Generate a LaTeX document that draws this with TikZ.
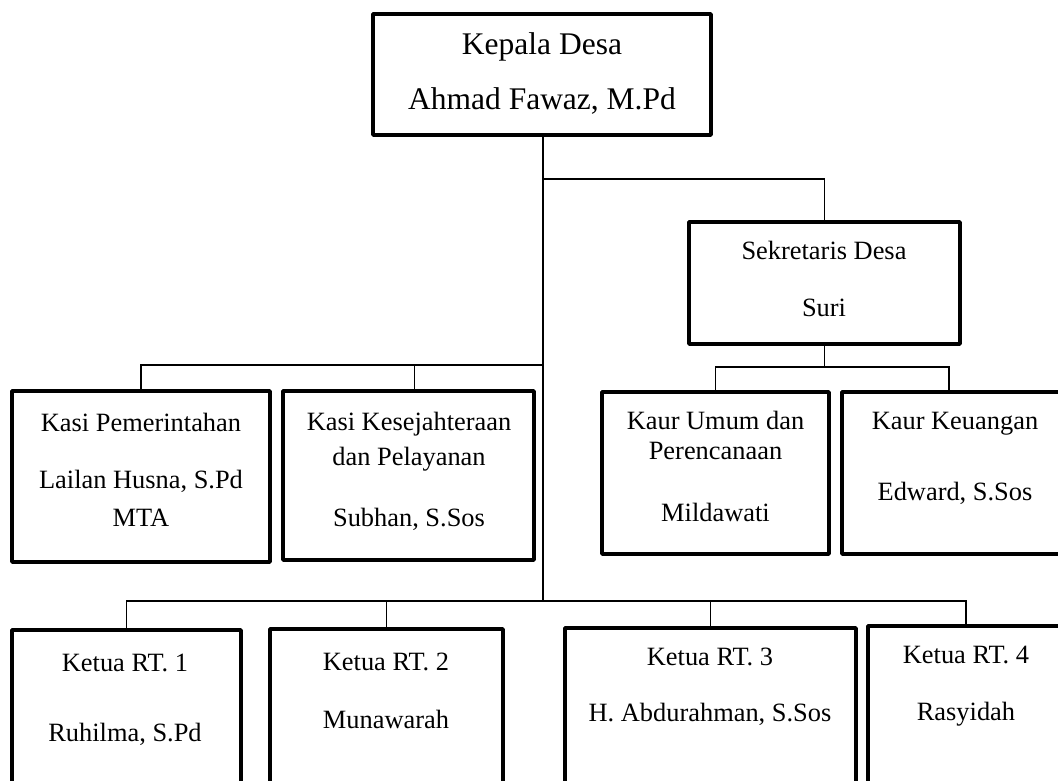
\documentclass[tikz,border=0pt]{standalone}
\usepackage{fontspec}
\setmainfont{Liberation Serif}
\begin{document}
\begin{tikzpicture}[x=1pt,y=-1pt,
  box/.style={draw=black, line width=3.5pt, line join=round, inner sep=0pt, outer sep=0pt, anchor=north west},
  conn/.style={draw=black, line width=1.2pt},
  txt/.style={anchor=base, inner sep=0pt, font=\fontsize{26.4}{30}\selectfont},
  bigtxt/.style={anchor=base, inner sep=0pt, font=\fontsize{31.5}{36}\selectfont}]
\useasboundingbox (0,0) rectangle (1058,781);
\clip (0,0) rectangle (1058,781);

% boxes
\node[box, minimum width=338pt, minimum height=121pt] (top) at (373,14) {};
\node[box, minimum width=258pt, minimum height=171pt] (kasi1) at (12,391) {};
\node[box, minimum width=251pt, minimum height=169pt] (kasi2) at (283,391) {};
\node[box, minimum width=271pt, minimum height=122pt] (sek) at (689,222) {};
\node[box, minimum width=227pt, minimum height=162pt] (kaur1) at (602,392) {};
\node[box, minimum width=226pt, minimum height=162pt] (kaur2) at (842,392) {};
\node[box, minimum width=229pt, minimum height=200pt] (rt1) at (12,630) {};
\node[box, minimum width=233pt, minimum height=200pt] (rt2) at (270,629) {};
\node[box, minimum width=291pt, minimum height=200pt] (rt3) at (565,628) {};
\node[box, minimum width=196pt, minimum height=200pt] (rt4) at (868,626) {};

% texts
\node[bigtxt] (t1a) at (542,55) {Kepala Desa};
\node[bigtxt] (t1b) at (542,110) {Ahmad Fawaz, M.Pd};
\node[txt] (k1a) at (141,431) {Kasi Pemerintahan};
\node[txt] (k1b) at (141,488) {Lailan Husna, S.Pd};
\node[txt] (k1c) at (141,526) {MTA};
\node[txt] (k2a) at (409,430) {Kasi Kesejahteraan};
\node[txt] (k2b) at (409,465) {dan Pelayanan};
\node[txt] (k2c) at (409,526) {Subhan, S.Sos};
\node[txt] (s1) at (824,259) {Sekretaris Desa};
\node[txt] (s2) at (824,316) {Suri};
\node[txt] (u1) at (715.5,429) {Kaur Umum dan};
\node[txt] (u2) at (715.5,459) {Perencanaan};
\node[txt] (u3) at (715.5,521) {Mildawati};
\node[txt] (g1) at (955,429) {Kaur Keuangan};
\node[txt] (g2) at (955,500) {Edward, S.Sos};
\node[txt] (r1a) at (125,671) {Ketua RT. 1};
\node[txt] (r1b) at (125,741) {Ruhilma, S.Pd};
\node[txt] (r2a) at (386,670) {Ketua RT. 2};
\node[txt] (r2b) at (386,728) {Munawarah};
\node[txt] (r3a) at (710,665) {Ketua RT. 3};
\node[txt] (r3b) at (710,721) {H. Abdurahman, S.Sos};
\node[txt] (r4a) at (966,663) {Ketua RT. 4};
\node[txt] (r4b) at (966,720) {Rasyidah};

% connectors
\coordinate (trunkend) at (543,601);
\coordinate (sekjoin) at (543,179);
\coordinate (kasijoin) at (543,365);
\coordinate (kaurbus) at (0,367);
\coordinate (rtbus) at (0,601);
\draw[conn] ([xshift=1pt]top.south) -- (trunkend);
\draw[conn] (sekjoin) -| (sek.north);
\draw[conn] (kasi1.north) |- (kasijoin);
\draw[conn] ([xshift=6pt]kasi2.north) -- ([xshift=6pt]kasi2.north |- kasijoin);
\draw[conn] (sek.south) -- (sek.south |- kaurbus);
\draw[conn] (kaur1.north) |- ([xshift=-6pt]kaur2.north |- kaurbus) -- ([xshift=-6pt]kaur2.north);
\draw[conn] (rt1.north) |- (rt4.north |- rtbus) -- (rt4.north);
\draw[conn] (rt2.north) -- (rt2.north |- rtbus);
\draw[conn] (rt3.north) -- (rt3.north |- rtbus);
\end{tikzpicture}
\end{document}
